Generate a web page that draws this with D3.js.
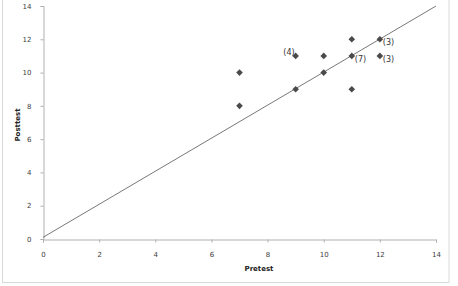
<!DOCTYPE html>
<html>
<head>
<meta charset="utf-8">
<script src="https://cdn.jsdelivr.net/npm/d3@7"></script>
<style>
  body { margin: 0; background: #fff; }
  svg { display: block; font-family: Calibri, Carlito, "Liberation Sans", Arial, sans-serif; }
</style>
</head>
<body>
<svg id="chart" width="458" height="286"></svg>
<script>
// pretest / posttest pairs
var pretest  = [7, 7, 9, 9, 10, 10, 11, 11, 11, 12, 12];
var posttest = [10, 8, 9, 11, 11, 10, 12, 11, 9, 12, 11];
// count labels on some points
var labelX    = [9, 11, 12, 12];
var labelY    = [11, 11, 12, 11];
var labelText = ['(4)', '(7)', '(3)', '(3)'];
var labelSide = ['left', 'right', 'right', 'right'];
// reference line
var lineX = [0, 14];
var lineY = [0.1, 14];
var ticks = [0, 2, 4, 6, 8, 10, 12, 14];

var svg = d3.select('#chart');

// outer chart border
svg.append('rect')
    .attr('x', 2.5).attr('y', -2)
    .attr('width', 446.5).attr('height', 284.5)
    .attr('fill', 'none')
    .attr('stroke', '#d9d9d9');

var x = d3.scaleLinear().domain([0, 14]).range([43, 436]);
var y = d3.scaleLinear().domain([0, 14]).range([239, 6]);

var xAxis = svg.append('g')
    .attr('transform', 'translate(0,239.5)')
    .call(d3.axisBottom(x).tickValues(ticks).tickSize(3).tickPadding(10));
var yAxis = svg.append('g')
    .attr('transform', 'translate(43.5,0)')
    .call(d3.axisLeft(y).tickValues(ticks).tickSize(3).tickPadding(9));

[xAxis, yAxis].forEach(function (g) {
    g.selectAll('.domain, line').attr('stroke', '#b0b0b0');
    g.selectAll('text')
        .attr('fill', '#404040')
        .style('font-size', '7px')
        .style('font-family', '"DejaVu Sans", sans-serif');
});

// axis titles
svg.append('text')
    .attr('x', 259).attr('y', 271)
    .attr('text-anchor', 'middle')
    .style('font-size', '7px')
    .style('font-weight', 'bold')
    .style('font-family', '"DejaVu Sans", sans-serif')
    .attr('fill', '#222')
    .text('Pretest');

svg.append('text')
    .attr('transform', 'translate(20,125) rotate(-90)')
    .attr('text-anchor', 'middle')
    .style('font-size', '7px')
    .style('font-weight', 'bold')
    .style('font-family', '"DejaVu Sans", sans-serif')
    .attr('fill', '#222')
    .text('Posttest');

// y = x line
svg.append('path')
    .datum(d3.zip(lineX, lineY))
    .attr('fill', 'none')
    .attr('stroke', '#555')
    .attr('stroke-width', 0.8)
    .attr('d', d3.line().x(function (d) { return x(d[0]); }).y(function (d) { return y(d[1]); }));

// diamonds
svg.append('g').selectAll('path')
    .data(d3.zip(pretest, posttest))
    .join('path')
    .attr('transform', function (d) { return 'translate(' + x(d[0]) + ',' + y(d[1]) + ')'; })
    .attr('d', d3.symbol(d3.symbolDiamond2, 28))
    .attr('fill', '#4a4a4a');

// labels
svg.append('g').selectAll('text')
    .data(d3.range(labelText.length))
    .join('text')
    .attr('x', function (i) { return x(labelX[i]) + (labelSide[i] === 'left' ? -1 : 3); })
    .attr('y', function (i) { return y(labelY[i]) + (labelSide[i] === 'left' ? -1 : 6); })
    .attr('text-anchor', function (i) { return labelSide[i] === 'left' ? 'end' : 'start'; })
    .style('font-size', '8px')
    .style('font-family', '"DejaVu Sans", sans-serif')
    .attr('fill', '#333')
    .text(function (i) { return labelText[i]; });
</script>
</body>
</html>
